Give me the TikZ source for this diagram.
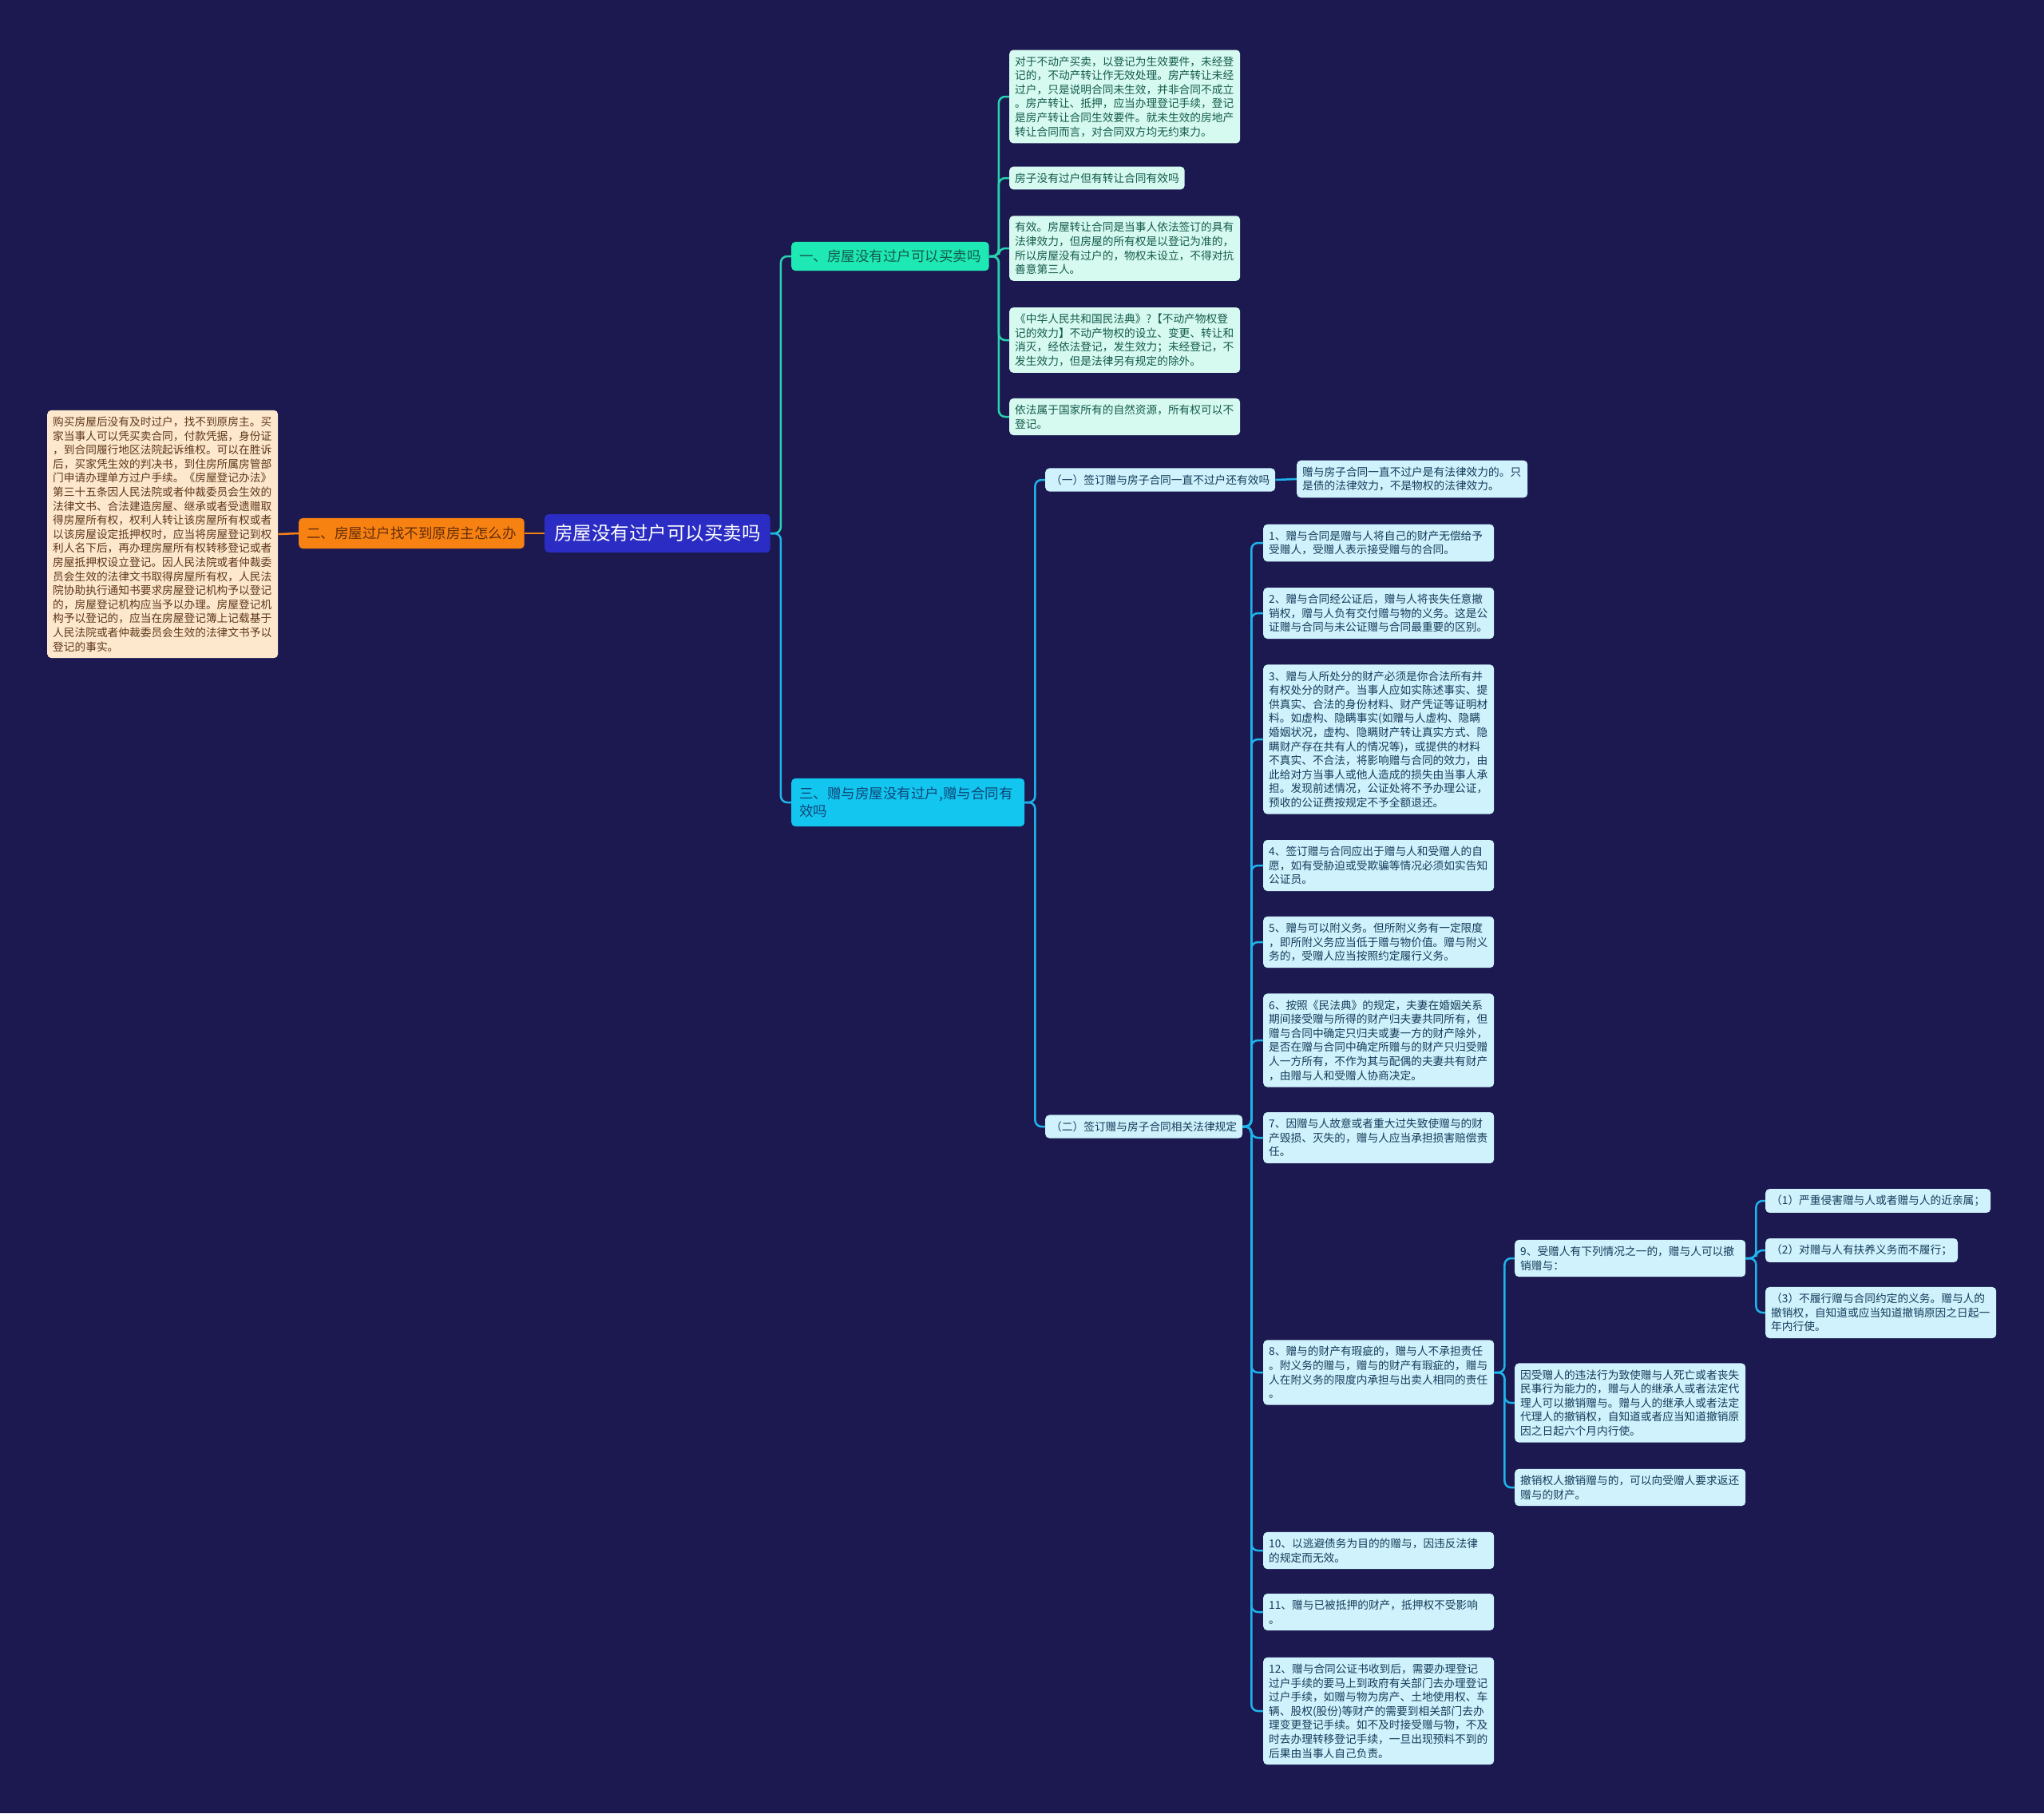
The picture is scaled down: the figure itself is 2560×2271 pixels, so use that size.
\documentclass[tikz,border=0pt]{standalone}
\usepackage{fontspec}
\newfontfamily\cjk{Noto Sans CJK SC}
\usetikzlibrary{positioning}
\definecolor{bgNavy}{RGB}{27,25,80}
\definecolor{rootBlue}{RGB}{42,44,196}
\definecolor{oFill}{RGB}{247,130,18}
\definecolor{oText}{RGB}{100,45,10}
\definecolor{peachFill}{RGB}{253,232,206}
\definecolor{peachText}{RGB}{95,55,25}
\definecolor{tFill}{RGB}{30,232,180}
\definecolor{tText}{RGB}{20,90,75}
\definecolor{tLine}{RGB}{40,210,175}
\definecolor{mintFill}{RGB}{214,250,240}
\definecolor{cFill}{RGB}{18,198,240}
\definecolor{cText}{RGB}{15,70,120}
\definecolor{cLine}{RGB}{30,180,235}
\definecolor{iceFill}{RGB}{208,242,252}
\definecolor{iceText}{RGB}{20,60,90}

\tikzset{
  box/.style={rounded corners=5pt, align=left, anchor=west, inner xsep=7pt, inner ysep=8pt},
  small/.style={font=\cjk\fontsize{13.7}{17.6}\selectfont},
  mid/.style={font=\cjk\fontsize{17.5}{22}\selectfont},
  minttag/.style={box, small, fill=mintFill, text=tText},
  icetag/.style={box, small, fill=iceFill, text=iceText},
  mintleaf/.style={minttag, text width=275pt},
  iceleaf/.style={icetag, text width=275pt},
  link/.style={line width=2.5pt, rounded corners=8pt}
}

\begin{document}
\begin{tikzpicture}[x=1pt,y=-1pt]
    \fill[bgNavy] (0,0) rectangle (2560,2271);

    % centre and left branch
    \node[box, fill=rootBlue, text=white, inner xsep=12pt, inner ysep=13pt,
          font=\cjk\fontsize{23.5}{28}\selectfont] (root) at (682,668) {房屋没有过户可以买卖吗};
    \node[box, mid, fill=oFill, text=oText, inner xsep=10pt, inner ysep=11pt] (two) at (374,668) {二、房屋过户找不到原房主怎么办};
    \node[box, small, fill=peachFill, text=peachText, text width=275pt] (twoA) at (59,669) {购买房屋后没有及时过户，找不到原房主。买\\家当事人可以凭买卖合同，付款凭据，身份证\\，到合同履行地区法院起诉维权。可以在胜诉\\后，买家凭生效的判决书，到住房所属房管部\\门申请办理单方过户手续。《房屋登记办法》\\第三十五条因人民法院或者仲裁委员会生效的\\法律文书、合法建造房屋、继承或者受遗赠取\\得房屋所有权，权利人转让该房屋所有权或者\\以该房屋设定抵押权时，应当将房屋登记到权\\利人名下后，再办理房屋所有权转移登记或者\\房屋抵押权设立登记。因人民法院或者仲裁委\\员会生效的法律文书取得房屋所有权，人民法\\院协助执行通知书要求房屋登记机构予以登记\\的，房屋登记机构应当予以办理。房屋登记机\\构予以登记的，应当在房屋登记簿上记载基于\\人民法院或者仲裁委员会生效的法律文书予以\\登记的事实。};
    \draw[link, oFill] (root.west) -- (two.east);
    \draw[link, oFill] (two.west) -- (twoA.east);

    % section one
    \node[box, mid, fill=tFill, text=tText, inner xsep=10pt, inner ysep=10pt] (one) at (991,321) {一、房屋没有过户可以买卖吗};
    \node[mintleaf] (oneA) at (1264,121) {对于不动产买卖，以登记为生效要件，未经登\\记的，不动产转让作无效处理。房产转让未经\\过户，只是说明合同未生效，并非合同不成立\\。房产转让、抵押，应当办理登记手续，登记\\是房产转让合同生效要件。就未生效的房地产\\转让合同而言，对合同双方均无约束力。};
    \node[minttag] (oneB) at (1264,223) {房子没有过户但有转让合同有效吗};
    \node[mintleaf] (oneC) at (1264,311) {有效。房屋转让合同是当事人依法签订的具有\\法律效力，但房屋的所有权是以登记为准的，\\所以房屋没有过户的，物权未设立，不得对抗\\善意第三人。};
    \node[mintleaf] (oneD) at (1264,426) {《中华人民共和国民法典》?【不动产物权登\\记的效力】不动产物权的设立、变更、转让和\\消灭，经依法登记，发生效力；未经登记，不\\发生效力，但是法律另有规定的除外。};
    \node[mintleaf] (oneE) at (1264,522) {依法属于国家所有的自然资源，所有权可以不\\登记。};
    \draw[link, tLine] (root.east) -- ++(13,0) |- (one.west);
    \foreach \leaf in {oneA,oneB,oneC,oneD,oneE}
        \draw[link, tLine] (one.east) -- ++(12,0) |- (\leaf.west);

    % section three
    \node[box, mid, fill=cFill, text=cText, inner xsep=10pt, inner ysep=11pt, text width=272pt] (three) at (991,1005) {三、赠与房屋没有过户,赠与合同有\\效吗};
    \draw[link, cLine] (root.east) -- ++(13,0) |- (three.west);

    \node[icetag] (subA) at (1309,601) {（一）签订赠与房子合同一直不过户还有效吗};
    \node[iceleaf] (subAx) at (1624,600) {赠与房子合同一直不过户是有法律效力的。只\\是债的法律效力，不是物权的法律效力。};
    \node[icetag] (subB) at (1309,1411) {（二）签订赠与房子合同相关法律规定};
    \draw[link, cLine] (three.east) -- ++(13,0) |- (subA.west);
    \draw[link, cLine] (three.east) -- ++(13,0) |- (subB.west);
    \draw[link, cLine] (subA.east) -- (subAx.west);

    \node[iceleaf] (r1) at (1582,680) {1、赠与合同是赠与人将自己的财产无偿给予\\受赠人，受赠人表示接受赠与的合同。};
    \node[iceleaf] (r2) at (1582,768) {2、赠与合同经公证后，赠与人将丧失任意撤\\销权，赠与人负有交付赠与物的义务。这是公\\证赠与合同与未公证赠与合同最重要的区别。};
    \node[iceleaf] (r3) at (1582,926) {3、赠与人所处分的财产必须是你合法所有并\\有权处分的财产。当事人应如实陈述事实、提\\供真实、合法的身份材料、财产凭证等证明材\\料。如虚构、隐瞒事实(如赠与人虚构、隐瞒\\婚姻状况，虚构、隐瞒财产转让真实方式、隐\\瞒财产存在共有人的情况等)，或提供的材料\\不真实、不合法，将影响赠与合同的效力，由\\此给对方当事人或他人造成的损失由当事人承\\担。发现前述情况，公证处将不予办理公证，\\预收的公证费按规定不予全额退还。};
    \node[iceleaf] (r4) at (1582,1084) {4、签订赠与合同应出于赠与人和受赠人的自\\愿，如有受胁迫或受欺骗等情况必须如实告知\\公证员。};
    \node[iceleaf] (r5) at (1582,1180) {5、赠与可以附义务。但所附义务有一定限度\\，即所附义务应当低于赠与物价值。赠与附义\\务的，受赠人应当按照约定履行义务。};
    \node[iceleaf] (r6) at (1582,1303) {6、按照《民法典》的规定，夫妻在婚姻关系\\期间接受赠与所得的财产归夫妻共同所有，但\\赠与合同中确定只归夫或妻一方的财产除外，\\是否在赠与合同中确定所赠与的财产只归受赠\\人一方所有，不作为其与配偶的夫妻共有财产\\，由赠与人和受赠人协商决定。};
    \node[iceleaf] (r7) at (1582,1425) {7、因赠与人故意或者重大过失致使赠与的财\\产毁损、灭失的，赠与人应当承担损害赔偿责\\任。};
    \node[iceleaf] (r8) at (1582,1719) {8、赠与的财产有瑕疵的，赠与人不承担责任\\。附义务的赠与，赠与的财产有瑕疵的，赠与\\人在附义务的限度内承担与出卖人相同的责任\\。};
    \node[iceleaf] (r10) at (1582,1942) {10、以逃避债务为目的的赠与，因违反法律\\的规定而无效。};
    \node[iceleaf] (r11) at (1582,2019) {11、赠与已被抵押的财产，抵押权不受影响\\。};
    \node[iceleaf] (r12) at (1582,2143) {12、赠与合同公证书收到后，需要办理登记\\过户手续的要马上到政府有关部门去办理登记\\过户手续，如赠与物为房产、土地使用权、车\\辆、股权(股份)等财产的需要到相关部门去办\\理变更登记手续。如不及时接受赠与物，不及\\时去办理转移登记手续，一旦出现预料不到的\\后果由当事人自己负责。};
    \foreach \rule in {r1,r2,r3,r4,r5,r6,r7,r8,r10,r11,r12}
        \draw[link, cLine] (subB.east) -- ++(11,0) |- (\rule.west);

    % item 8 and its branches
    \node[iceleaf] (r9) at (1897,1576) {9、受赠人有下列情况之一的，赠与人可以撤\\销赠与：};
    \node[iceleaf] (r8b) at (1897,1757) {因受赠人的违法行为致使赠与人死亡或者丧失\\民事行为能力的，赠与人的继承人或者法定代\\理人可以撤销赠与。赠与人的继承人或者法定\\代理人的撤销权，自知道或者应当知道撤销原\\因之日起六个月内行使。};
    \node[iceleaf] (r8c) at (1897,1863) {撤销权人撤销赠与的，可以向受赠人要求返还\\赠与的财产。};
    \foreach \rule in {r9,r8b,r8c}
        \draw[link, cLine] (r8.east) -- ++(13,0) |- (\rule.west);

    \node[icetag] (c1) at (2211,1504) {（1）严重侵害赠与人或者赠与人的近亲属；};
    \node[icetag] (c2) at (2211,1566) {（2）对赠与人有扶养义务而不履行；};
    \node[iceleaf] (c3) at (2211,1644) {（3）不履行赠与合同约定的义务。赠与人的\\撤销权，自知道或应当知道撤销原因之日起一\\年内行使。};
    \foreach \rule in {c1,c2,c3}
        \draw[link, cLine] (r9.east) -- ++(13,0) |- (\rule.west);
\end{tikzpicture}
\end{document}
